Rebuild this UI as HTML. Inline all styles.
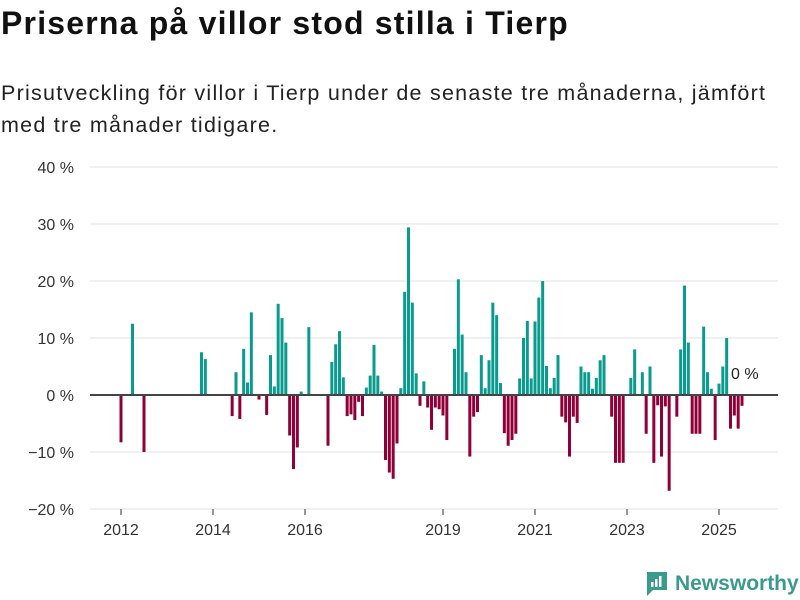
<!DOCTYPE html>
<html><head><meta charset="utf-8"><style>
body{margin:0;width:800px;height:600px;background:#fff;font-family:"Liberation Sans",sans-serif;overflow:hidden;position:relative}
#title{position:absolute;left:1px;top:5px;font-size:32px;font-weight:bold;color:#111;margin:0;letter-spacing:1.2px;white-space:nowrap}
#sub{position:absolute;left:1px;top:77px;font-size:21.5px;line-height:32px;color:#222;width:795px;letter-spacing:1.25px;white-space:nowrap}
svg{position:absolute;left:0;top:0}
</style></head><body>
<h1 id="title">Priserna på villor stod stilla i Tierp</h1>
<div id="sub">Prisutveckling för villor i Tierp under de senaste tre månaderna, jämfört<br>med tre månader tidigare.</div>
<svg id="chart" width="800" height="600"></svg>
<script>
const months=[0,3,6,21,22,29,30,31,32,33,34,36,38,39,40,41,42,43,44,45,46,47,49,54,55,56,57,58,59,60,61,62,63,64,65,66,67,68,69,70,71,72,73,74,75,76,77,78,79,80,81,82,83,84,85,87,88,89,90,91,92,93,94,95,96,97,98,99,100,101,102,103,104,105,106,107,108,109,110,111,112,113,114,115,116,117,118,119,120,121,122,123,124,125,126,128,129,130,131,133,134,136,137,138,139,140,141,142,143,145,146,147,148,149,150,151,152,153,154,155,156,157,158,159,160,161,162];
const values=[-8.3,12.5,-10,7.5,6.3,-3.7,4,-4.2,8.1,2.2,14.5,-0.8,-3.5,7,1.5,16,13.5,9.2,-7.1,-13,-9.2,0.6,11.9,-8.9,5.8,8.9,11.2,3.1,-3.7,-3.4,-4.4,-1.2,-3.7,1.3,3.4,8.8,3.4,0.6,-11.4,-13.6,-14.7,-8.5,1.2,18.1,29.4,16.2,3.8,-1.9,2.4,-2.2,-6.1,-2.2,-2.5,-3.6,-7.9,8.1,20.3,10.6,4,-10.8,-3.8,-3,7,1.2,6.1,16.2,14,2.1,-6.7,-8.9,-7.9,-6.8,2.9,10,13,2.9,12.9,17.1,20,5.1,1.2,3,7,-3.8,-4.8,-10.8,-3.8,-4.9,5,4,4,1.1,3,6.1,7,-3.8,-11.9,-11.9,-11.9,3,8,4,-6.8,5,-11.9,-1.8,-10.8,-2,-16.8,-3.8,8,19.2,9.2,-6.8,-6.8,-6.8,12,4,1.1,-7.9,2,5,10,-5.9,-3.6,-5.9,-1.9,-3.8];
const yTicks=[40,30,20,10,0,-10,-20];
const xTickYears=[2012,2014,2016,2019,2021,2023,2025];
const NS="http://www.w3.org/2000/svg";
const svg=document.getElementById('chart');
function y(v){return 395-v*5.7;}
function x(m){return 121+m*46/12;}
function mk(t,a){const e=document.createElementNS(NS,t);for(const k in a)e.setAttribute(k,a[k]);svg.appendChild(e);return e;}
yTicks.forEach(t=>{
  if(t!==0){const l=mk('line',{x1:90,x2:778,y1:y(t),y2:y(t),stroke:'#e2e2e2','stroke-width':1});
  
  }
  const tx=mk('text',{x:74,y:y(t)+6,'text-anchor':'end','font-size':16,fill:'#333','font-family':'Liberation Sans, sans-serif'});
  tx.textContent=(t<0?'−'+(-t):t)+' %';
  
  
});
xTickYears.forEach(yr=>{
  const xx=x((yr-2012)*12);
  const l=mk('line',{x1:xx,x2:xx,y1:509,y2:515,stroke:'#333','stroke-width':1});
  
  
  const tx=mk('text',{x:xx,y:535,'text-anchor':'middle','font-size':16,fill:'#333','font-family':'Liberation Sans, sans-serif'});
  tx.textContent=yr;
  
  
});
months.forEach((m,i)=>{
  const v=values[i];
  const r=mk('rect',{x:x(m)-1.5,width:3,y:Math.min(y(v),y(0)),height:Math.abs(y(v)-y(0)),fill:v>=0?'#0a9b8f':'#900038'});
  
  
});
const z=mk('line',{x1:90,x2:778,y1:y(0),y2:y(0),stroke:'#444','stroke-width':2});


const lab=mk('text',{x:731,y:379,'font-size':16,fill:'#222','font-family':'Liberation Sans, sans-serif'});
lab.textContent='0 %';


</script>
<div style="position:absolute;left:645px;top:570px;height:28px;display:flex;align-items:center">
<svg width="24" height="28" viewBox="0 0 24 28" style="position:static"><path d="M2 2h20v18H8l-6 6z" fill="#3b9a8e"/><rect x="6" y="12" width="2.5" height="5" fill="#fff"/><rect x="10" y="9" width="2.5" height="8" fill="#fff"/><rect x="14" y="6" width="2.5" height="11" fill="#fff"/></svg>
<span style="font-size:21px;font-weight:bold;color:#3b9a8e;margin-left:6px">Newsworthy</span></div>
</body></html>
